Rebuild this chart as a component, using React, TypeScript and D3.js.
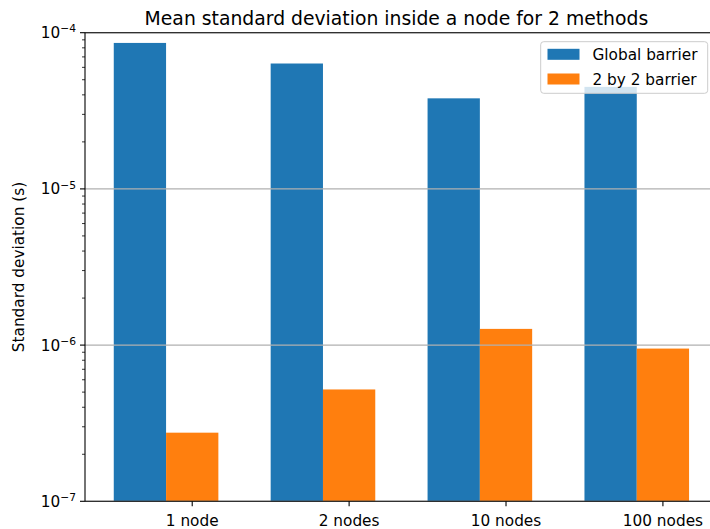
import { useEffect, useRef } from 'react';
import * as d3 from 'd3';

const categories = ['1 node', '2 nodes', '10 nodes', '100 nodes'];
const globalBarrier = [8.6e-5, 6.35e-5, 3.8e-5, 4.5e-5];
const twoByTwoBarrier = [2.75e-7, 5.2e-7, 1.27e-6, 9.5e-7];
const seriesNames = ['Global barrier', '2 by 2 barrier'];
const majorTicks = [1e-7, 1e-6, 1e-5, 1e-4];
const majorExponents = ['−7', '−6', '−5', '−4'];

const W = 710;
const H = 529;
const FONT = 'DejaVu Sans, sans-serif';
const FS = 15.3;
const BLUE = '#1f77b4';
const ORANGE = '#ff7f0e';

export default function App() {
  const svgRef = useRef<SVGSVGElement>(null);

  useEffect(() => {
    if (!svgRef.current) return;
    const svg = d3.select(svgRef.current);
    svg.selectAll('*').remove();

    const left = 85;
    const top = 32.7;
    const bottom = 501.3;
    const barW = 1 / 3;
    const lo = -barW / 2;
    const hi = categories.length - 1 + 1.5 * barW;
    const pad = (hi - lo) * 0.05;
    const unit = 156.9;

    const x = d3.scaleLinear()
      .domain([lo - pad, hi + pad])
      .range([left, left + (hi - lo + 2 * pad) * unit]);
    const y = d3.scaleLog()
      .domain([1e-7, 1e-4])
      .range([bottom, top]);
    const right = x(hi + pad);

    // bars
    const series = [globalBarrier, twoByTwoBarrier];
    const colors = [BLUE, ORANGE];
    series.forEach((vals, s) => {
      svg.append('g')
        .selectAll('rect')
        .data(vals)
        .join('rect')
        .attr('x', (_, i) => x(i + s * barW - barW / 2))
        .attr('width', x(barW) - x(0))
        .attr('y', d => y(d))
        .attr('height', d => bottom - y(d))
        .attr('fill', colors[s]);
    });

    // grid drawn over the bars
    svg.append('g')
      .selectAll('line')
      .data(majorTicks)
      .join('line')
      .attr('x1', left)
      .attr('x2', right)
      .attr('y1', d => y(d))
      .attr('y2', d => y(d))
      .attr('stroke', '#b0b0b0')
      .attr('stroke-width', 1.1);

    // spines (right one falls outside the cropped picture)
    const spines = svg.append('g').attr('stroke', 'black').attr('stroke-width', 1.1);
    spines.append('line').attr('x1', left).attr('x2', left).attr('y1', top).attr('y2', bottom);
    spines.append('line').attr('x1', left).attr('x2', right).attr('y1', bottom).attr('y2', bottom);
    spines.append('line').attr('x1', left).attr('x2', right).attr('y1', top).attr('y2', top);

    // y ticks
    const minor: number[] = [];
    for (let e = -7; e < -4; e++) {
      for (let m = 2; m <= 9; m++) minor.push(m * Math.pow(10, e));
    }
    svg.append('g')
      .selectAll('line')
      .data(minor)
      .join('line')
      .attr('x1', left - 3)
      .attr('x2', left)
      .attr('y1', d => y(d))
      .attr('y2', d => y(d))
      .attr('stroke', 'black')
      .attr('stroke-width', 0.8);

    const yt = svg.append('g')
      .selectAll('g')
      .data(majorTicks)
      .join('g')
      .attr('transform', d => `translate(0,${y(d)})`);
    yt.append('line')
      .attr('x1', left - 5)
      .attr('x2', left)
      .attr('stroke', 'black')
      .attr('stroke-width', 1.1);
    const ylab = yt.append('text')
      .attr('x', left - 9)
      .attr('dy', '0.36em')
      .attr('text-anchor', 'end')
      .attr('font-family', FONT)
      .attr('font-size', FS)
      .attr('fill', 'black');
    ylab.append('tspan').text('10');
    ylab.append('tspan')
      .attr('dy', '-0.55em')
      .attr('font-size', FS * 0.7)
      .text((_, i) => majorExponents[i]);

    // x ticks, under the second bar of each group
    const xt = svg.append('g')
      .selectAll('g')
      .data(categories)
      .join('g')
      .attr('transform', (_, i) => `translate(${x(i + barW)},${bottom})`);
    xt.append('line')
      .attr('y2', 5)
      .attr('stroke', 'black')
      .attr('stroke-width', 1.1);
    xt.append('text')
      .attr('y', 24.5)
      .attr('text-anchor', 'middle')
      .attr('font-family', FONT)
      .attr('font-size', FS)
      .attr('fill', 'black')
      .text(d => d);

    // y label
    svg.append('text')
      .attr('transform', `translate(24,${(top + bottom) / 2}) rotate(-90)`)
      .attr('text-anchor', 'middle')
      .attr('font-family', FONT)
      .attr('font-size', FS)
      .attr('fill', 'black')
      .text('Standard deviation (s)');

    // title
    svg.append('text')
      .attr('x', (left + right) / 2 - 5)
      .attr('y', 24.5)
      .attr('text-anchor', 'middle')
      .attr('font-family', FONT)
      .attr('font-size', 18.8)
      .attr('fill', 'black')
      .text('Mean standard deviation inside a node for 2 methods');

    // legend
    const lg = svg.append('g');
    lg.append('rect')
      .attr('x', 540.7)
      .attr('y', 41.7)
      .attr('width', 167)
      .attr('height', 51.6)
      .attr('rx', 3)
      .attr('fill', 'white')
      .attr('fill-opacity', 0.8)
      .attr('stroke', '#cccccc')
      .attr('stroke-width', 1);
    seriesNames.forEach((name, i) => {
      const cy = 54.3 + i * 24.7;
      lg.append('rect')
        .attr('x', 547.5)
        .attr('y', cy - 5.5)
        .attr('width', 32)
        .attr('height', 11)
        .attr('fill', colors[i]);
      lg.append('text')
        .attr('x', 592.5)
        .attr('y', cy)
        .attr('dy', '0.36em')
        .attr('font-family', FONT)
        .attr('font-size', FS)
        .attr('fill', 'black')
        .text(name);
    });
  }, []);

  return (
    <svg
      ref={svgRef}
      width={W}
      height={H}
      viewBox={`0 0 ${W} ${H}`}
      style={{ position: 'absolute', left: 0, top: 0, background: 'white' }}
    />
  );
}
